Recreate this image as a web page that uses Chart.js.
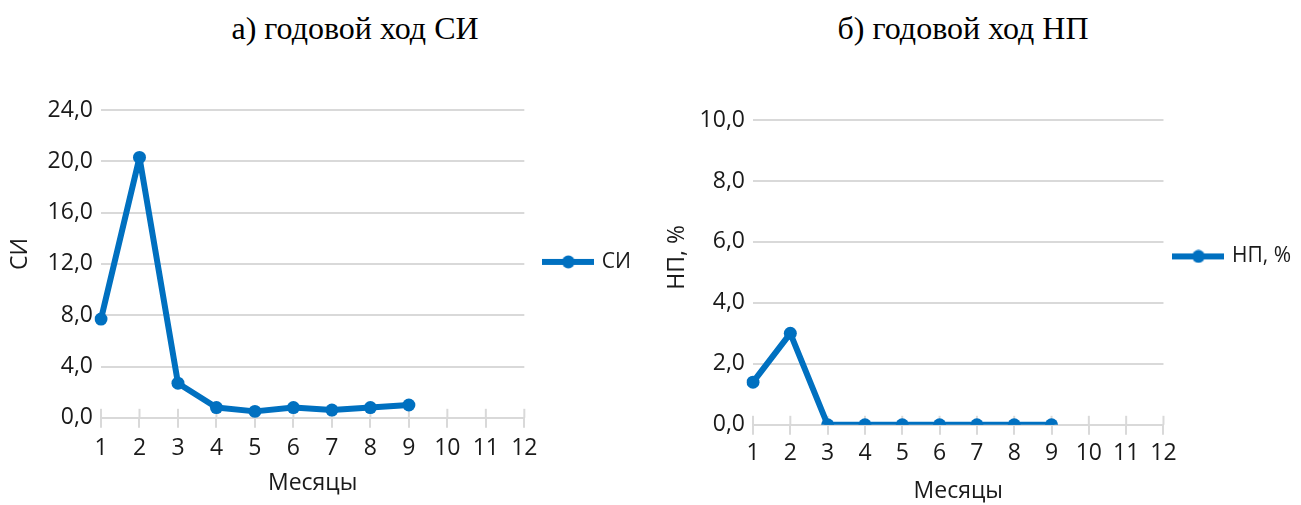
<!DOCTYPE html>
<html>
<head>
<meta charset="utf-8">
<script src="https://cdn.jsdelivr.net/npm/chart.js@4"></script>
<style>
  body { margin: 0; background: #fff; width: 1301px; height: 505px; position: relative; overflow: hidden; }
  .title { position: absolute; top: 8px; font-family: 'Liberation Serif', 'Times New Roman', serif; font-size: 32px; color: #000; transform: translateX(-50%); white-space: nowrap; line-height: 40px; }
  .box { position: absolute; top: 70px; height: 435px; }
</style>
</head>
<body>
<div class="title" style="left:355px">а) годовой ход СИ</div>
<div class="title" style="left:963px">б) годовой ход НП</div>
<div class="box" style="left:0; width:650px"><canvas id="chartSI"></canvas></div>
<div class="box" style="left:655px; width:646px"><canvas id="chartNP"></canvas></div>

<script>
// данные
const months = ['1', '2', '3', '4', '5', '6', '7', '8', '9', '10', '11', '12'];
const siValues = [7.7, 20.3, 2.7, 0.8, 0.5, 0.8, 0.6, 0.8, 1.0];
const npValues = [1.4, 3.0, 0, 0, 0, 0, 0, 0, 0];
const siAxis = { max: 24, step: 4 };
const npAxis = { max: 10, step: 2 };

const BLUE = '#0070c0';
const GRID = '#d9d9d9';
const TEXT = '#1a1a1a';
const FONT = "'Open Sans', 'Noto Sans', sans-serif";

// значок легенды: линия с точкой
function legendIcon() {
  const c = document.createElement('canvas');
  c.width = 52; c.height = 14;
  const g = c.getContext('2d');
  g.strokeStyle = BLUE; g.lineWidth = 6;
  g.beginPath(); g.moveTo(0, 7); g.lineTo(52, 7); g.stroke();
  g.fillStyle = BLUE;
  g.beginPath(); g.arc(26, 7, 6.5, 0, Math.PI * 2); g.fill();
  return c;
}

// засечки оси X, пересекающие ось (как в Excel)
const crossTicks = {
  id: 'crossTicks',
  beforeDatasetsDraw(chart) {
    const x = chart.scales.x;
    const y0 = chart.chartArea.bottom;
    const ctx = chart.ctx;
    ctx.save();
    ctx.strokeStyle = GRID;
    ctx.lineWidth = 2;
    x.ticks.forEach((t, i) => {
      const px = x.getPixelForTick(i);
      ctx.beginPath();
      ctx.moveTo(px, y0 - 9);
      ctx.lineTo(px, y0);
      ctx.stroke();
    });
    ctx.restore();
  }
};

// сдвиг легенды и подписи оси Y по вертикали
const nudge = {
  id: 'nudge',
  afterLayout(chart, args, opts) {
    const dy = opts.legendDy || 0;
    chart.legend.top += dy;
    chart.legend.bottom += dy;
    const y = chart.scales.y;
    if (!y._origDrawTitle) {
      y._origDrawTitle = y.drawTitle;
      y.drawTitle = function () {
        this.ctx.save();
        this.ctx.translate(0, opts.titleDy || 0);
        this._origDrawTitle();
        this.ctx.restore();
      };
    }
  }
};

function makeChart(id, label, values, axis, opts) {
  const icon = legendIcon();
  return new Chart(document.getElementById(id), {
    type: 'line',
    data: {
      labels: months,
      datasets: [{
        label: label,
        data: values,
        borderColor: BLUE,
        backgroundColor: BLUE,
        borderWidth: 6,
        borderJoinStyle: 'round',
        borderCapStyle: 'round',
        pointRadius: 6.5,
        pointBackgroundColor: BLUE,
        pointBorderWidth: 0,
        tension: 0
      }]
    },
    options: {
      responsive: true,
      maintainAspectRatio: false,
      animation: false,
      layout: { padding: opts.padding },
      plugins: {
        title: { display: false },
        tooltip: { enabled: false },
        nudge: { legendDy: opts.legendDy, titleDy: opts.titleDy },
        legend: {
          position: 'right',
          fullSize: false,
          labels: {
            usePointStyle: true,
            pointStyleWidth: 46,
            padding: opts.legendPad,
            color: TEXT,
            font: { family: FONT, size: 21 },
            generateLabels(chart) {
              const items = Chart.defaults.plugins.legend.labels.generateLabels(chart);
              items.forEach(it => { it.pointStyle = icon; });
              return items;
            }
          }
        }
      },
      scales: {
        x: {
          offset: false,
          grid: { drawOnChartArea: false, drawTicks: true, tickLength: 10, color: GRID, lineWidth: 2 },
          border: { display: true, color: GRID, width: 2 },
          ticks: { color: TEXT, font: { family: FONT, size: 23 }, padding: opts.xTickPad, maxRotation: 0, autoSkip: false },
          title: { display: true, text: 'Месяцы', color: TEXT, font: { family: FONT, size: 23 }, padding: opts.xTitlePad }
        },
        y: {
          min: 0,
          max: axis.max,
          grid: { color: GRID, lineWidth: 2, drawTicks: false },
          border: { display: false },
          ticks: {
            stepSize: axis.step,
            color: TEXT,
            font: { family: FONT, size: 23 },
            padding: 8,
            callback: v => v.toFixed(1).replace('.', ',')
          },
          title: { display: true, text: label, color: TEXT, font: { family: FONT, size: 23 }, padding: opts.yTitlePad }
        }
      }
    },
    plugins: [crossTicks, nudge]
  });
}

makeChart('chartSI', 'СИ', siValues, siAxis, {
  padding: { left: 7, top: 40, right: 9, bottom: 4 },
  legendPad: 21,
  legendDy: -2,
  titleDy: -10,
  xTickPad: 7,
  xTitlePad: { top: 0, bottom: 4 },
  yTitlePad: { top: 0, bottom: 5 }
});

makeChart('chartNP', 'НП, %', npValues, npAxis, {
  padding: { left: 9, top: 50, right: 0, bottom: 0 },
  legendPad: 12,
  legendDy: -16,
  titleDy: -15,
  xTickPad: 5,
  xTitlePad: { top: 5, bottom: 0 },
  yTitlePad: { top: 0, bottom: 0 }
});
</script>
</body>
</html>
